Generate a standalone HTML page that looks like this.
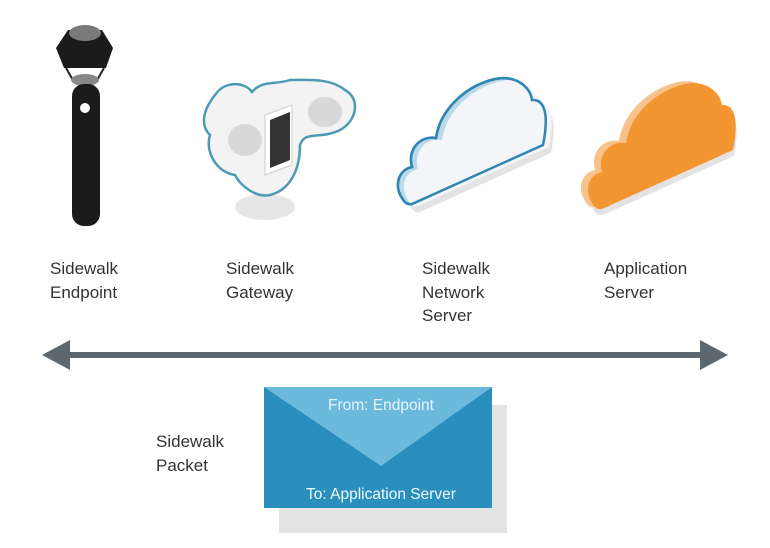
<!DOCTYPE html>
<html><head><style>
body{margin:0;background:#fff;width:770px;height:548px;overflow:hidden;font-family:"Liberation Sans",sans-serif;}
.l{position:absolute;font-size:17px;line-height:23.5px;color:#333;}
</style></head><body>
<svg width="770" height="548" style="position:absolute;left:0;top:0">
<defs>
<path id="cl" d="M402,198 C394,186 398,170 412,167 C407,150 420,135 436,138 C440,110 465,86 495,79 C515,75 530,86 532,100 C545,99 549,115 543,145 L412,204 C407,205 404,202 402,198Z"/>
</defs>
<!-- endpoint -->
<path d="M68,30 L102,30 L113,48 L106,68 L64,68 L56,48Z" fill="#1b1b1b"/>
<ellipse cx="85" cy="33" rx="16" ry="8" fill="#7a7a7a"/>
<path d="M66,68 L74,82 L96,82 L104,68" fill="none" stroke="#222" stroke-width="2"/>
<ellipse cx="85" cy="80" rx="14" ry="6" fill="#888"/>
<rect x="72" y="84" width="28" height="142" rx="12" fill="#1b1b1b"/>
<circle cx="85" cy="108" r="5" fill="#fff"/>
<!-- gateway -->
<ellipse cx="265" cy="207" rx="30" ry="13" fill="#e6e6e6"/>
<path d="M215,95 C225,80 245,82 252,92 C262,80 275,85 290,80 C310,80 330,78 345,90 C360,98 358,120 340,130 C320,140 305,130 300,145 C300,170 290,190 270,195 C255,198 240,185 235,175 C215,172 205,150 210,135 C200,125 203,110 215,95Z" fill="#f3f3f3" stroke="#4c9bb6" stroke-width="2.5"/>
<ellipse cx="325" cy="112" rx="17" ry="15" fill="#d8d8d8"/>
<ellipse cx="245" cy="140" rx="17" ry="16" fill="#d8d8d8"/>
<path d="M265,115 L292,105 L292,165 L265,175Z" fill="#fff" stroke="#ccc"/>
<path d="M270,120 L290,112 L290,160 L270,168Z" fill="#333"/>
<!-- network cloud -->
<use href="#cl" transform="translate(8,8)" fill="#e3e3e3"/>
<use href="#cl" fill="#bcd9e8" stroke="#2e86b5" stroke-width="2.5"/>
<use href="#cl" transform="translate(6,2)" fill="#f4f5f9"/>
<use href="#cl" fill="none" stroke="#2e86b5" stroke-width="2.5"/>
<!-- app cloud -->
<g transform="translate(183,3)">
<use href="#cl" transform="translate(8,8)" fill="#e3e3e3"/>
<use href="#cl" fill="#f7c28c"/>
<use href="#cl" transform="translate(7,2)" fill="#f39632"/>
</g>
<!-- arrow -->
<rect x="60" y="352" width="650" height="6" fill="#5d6770"/>
<path d="M42,355 L70,340 L70,370Z" fill="#5d6770"/>
<path d="M728,355 L700,340 L700,370Z" fill="#5d6770"/>
<!-- envelope -->
<rect x="279" y="405" width="228" height="128" fill="#e3e3e3"/>
<rect x="264" y="387" width="228" height="121" fill="#2a8fbd"/>
<path d="M264,387 L492,387 L381,466Z" fill="#6bbade"/>
<text x="381" y="410" font-size="15.5" fill="#e8f4fa" text-anchor="middle" font-family="Liberation Sans">From: Endpoint</text>
<text x="381" y="499" font-size="15.5" fill="#eef7fb" text-anchor="middle" font-family="Liberation Sans">To: Application Server</text>
</svg>
<div class="l" style="left:50px;top:257px">Sidewalk<br>Endpoint</div>
<div class="l" style="left:226px;top:257px">Sidewalk<br>Gateway</div>
<div class="l" style="left:422px;top:257px">Sidewalk<br>Network<br>Server</div>
<div class="l" style="left:604px;top:257px">Application<br>Server</div>
<div class="l" style="left:156px;top:430px">Sidewalk<br>Packet</div>
</body></html>
